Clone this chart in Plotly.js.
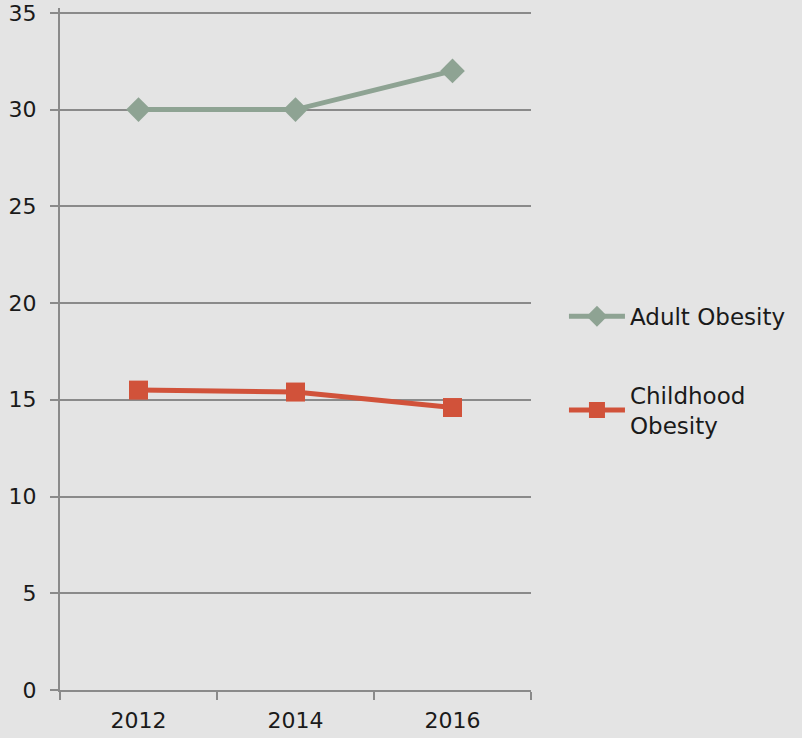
<!DOCTYPE html>
<html>
<head>
<meta charset="utf-8">
<script src="https://cdn.plot.ly/plotly-3.0.1.min.js"></script>
<style>
  html, body { margin: 0; padding: 0; background: #e4e4e4; }
  #chart { width: 802px; height: 738px; }
</style>
</head>
<body>
<div id="chart"></div>
<script>
const years = ["2012", "2014", "2016"];
const adultObesity = [30, 30, 32];
const childhoodObesity = [15.5, 15.4, 14.6];
const yTicks = [0, 5, 10, 15, 20, 25, 30, 35];

const traces = [
  {
    x: years, y: adultObesity, name: "Adult Obesity", legendgroup: "a",
    type: "scatter", mode: "lines+markers",
    line: { color: "#8ea393", width: 5 },
    marker: { symbol: "diamond", size: 19, color: "#8ea393" }
  },
  {
    x: years, y: childhoodObesity, name: "Childhood<br>Obesity", legendgroup: "b",
    type: "scatter", mode: "lines+markers",
    line: { color: "#d1523a", width: 5 },
    marker: { symbol: "square", size: 19, color: "#d1523a" }
  }
];

const layout = {
  width: 802, height: 738,
  paper_bgcolor: "#e4e4e4", plot_bgcolor: "#e4e4e4",
  margin: { l: 60, r: 271, t: 8, b: 48 },
  font: { family: "DejaVu Sans, sans-serif", size: 22, color: "#1a1a1a" },
  showlegend: true,
  legend: {
    x: 1.07, y: 0.468, xanchor: "left", yanchor: "middle",
    font: { size: 23, color: "#1a1a1a" },
    bgcolor: "rgba(0,0,0,0)", tracegroupgap: 46, itemwidth: 56
  },
  xaxis: {
    type: "category", range: [-0.5, 2.5],
    showgrid: false, showline: true, linecolor: "#8a8a8a", linewidth: 2,
    ticks: "outside", tickson: "boundaries", ticklen: 8, tickcolor: "#8a8a8a", tickwidth: 2,
    ticklabelstandoff: 10, automargin: false,
    tickfont: { size: 22, color: "#1a1a1a" }, zeroline: false, fixedrange: true
  },
  yaxis: {
    range: [0, 35.25], tickvals: yTicks, ticktext: yTicks.map(String),
    showgrid: true, gridcolor: "#8a8a8a", gridwidth: 2,
    showline: true, linecolor: "#8a8a8a", linewidth: 2,
    ticks: "outside", ticklen: 8, tickcolor: "#8a8a8a", tickwidth: 2,
    ticklabelstandoff: 9, automargin: false,
    tickfont: { size: 22, color: "#1a1a1a" }, zeroline: false, fixedrange: true
  }
};

Plotly.newPlot("chart", traces, layout, { displayModeBar: false, staticPlot: true });
</script>
</body>
</html>
